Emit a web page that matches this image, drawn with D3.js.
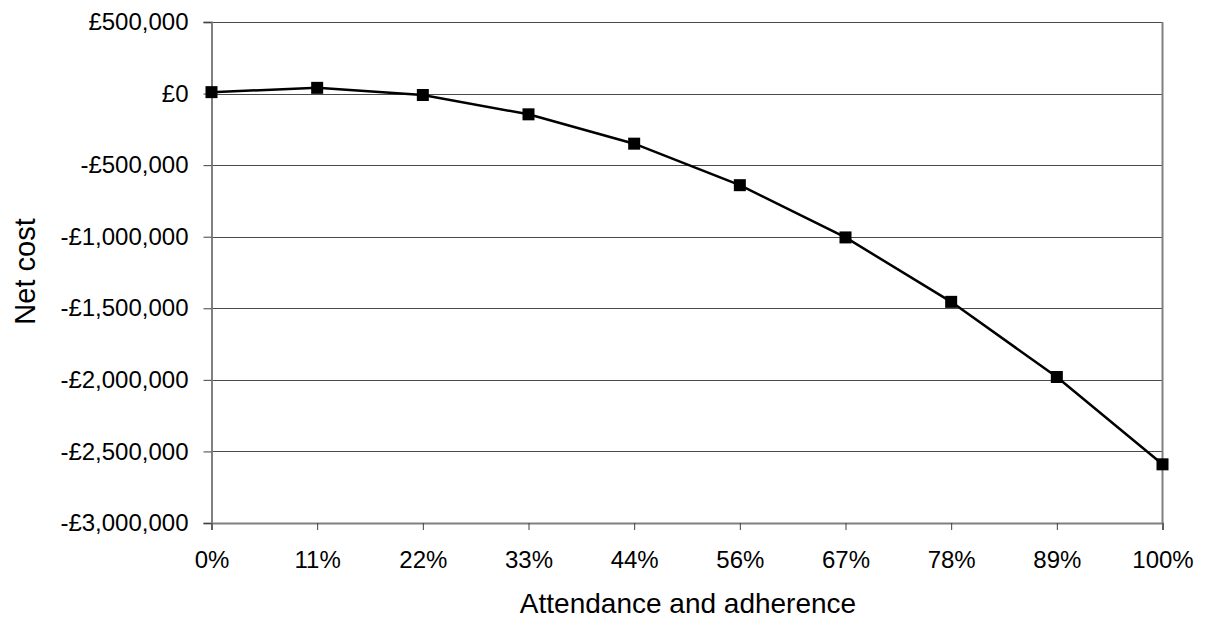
<!DOCTYPE html>
<html>
<head>
<meta charset="utf-8">
<script src="https://cdn.jsdelivr.net/npm/d3@7"></script>
<style>
  html, body { margin: 0; padding: 0; background: #fff; }
  svg { display: block; }
  text { font-family: "Liberation Sans", Arial, sans-serif; fill: #000; }
</style>
</head>
<body>
<svg id="chart" width="1207" height="621"></svg>
<script>
// Attendance/adherence levels and the net cost at each level
const categories = ["0%", "11%", "22%", "33%", "44%", "56%", "67%", "78%", "89%", "100%"];
const netCost = [10000, 40000, -10000, -145000, -350000, -640000, -1005000, -1455000, -1980000, -2590000];
const yTicks = [500000, 0, -500000, -1000000, -1500000, -2000000, -2500000, -3000000];

const svg = d3.select("#chart");
const plot = { left: 211.5, right: 1162.5, top: 22, bottom: 523 };

const x = d3.scalePoint().domain(categories).range([plot.left, plot.right]).padding(0);
const y = d3.scaleLinear().domain([-3000000, 500000]).range([plot.bottom, plot.top]);

const fmt = v => (v < 0 ? "-" : "") + "£" + d3.format(",")(Math.abs(v));

// horizontal gridlines
svg.append("g")
  .selectAll("line")
  .data(yTicks)
  .join("line")
  .attr("x1", plot.left).attr("x2", plot.right)
  .attr("y1", d => Math.round(y(d)) + 0.5).attr("y2", d => Math.round(y(d)) + 0.5)
  .attr("stroke", "#4a4a4a").attr("stroke-width", 1);

// right border of the plot area
svg.append("line")
  .attr("x1", plot.right).attr("x2", plot.right)
  .attr("y1", plot.top).attr("y2", plot.bottom)
  .attr("stroke", "#808080").attr("stroke-width", 2);

// y axis
const yAxis = svg.append("g")
  .attr("transform", `translate(${plot.left},0)`)
  .call(d3.axisLeft(y).tickValues(yTicks).tickFormat(fmt).tickSize(8).tickPadding(15));
yAxis.select(".domain").attr("stroke", "#808080").attr("stroke-width", 2);
yAxis.selectAll(".tick line").attr("stroke", "#404040").attr("stroke-width", 1);
yAxis.selectAll(".tick text").attr("font-size", 24).attr("font-family", "Liberation Sans, Arial, sans-serif").attr("fill", "#000");

// x axis
const xAxis = svg.append("g")
  .attr("transform", `translate(0,${plot.bottom})`)
  .call(d3.axisBottom(x).tickSize(7).tickPadding(21));
xAxis.select(".domain").attr("stroke", "#808080").attr("stroke-width", 2);
xAxis.selectAll(".tick line").attr("stroke", "#404040").attr("stroke-width", 1);
xAxis.selectAll(".tick text").attr("font-size", 24).attr("font-family", "Liberation Sans, Arial, sans-serif").attr("fill", "#000");

// series line
svg.append("path")
  .datum(netCost)
  .attr("fill", "none")
  .attr("stroke", "#000")
  .attr("stroke-width", 2.5)
  .attr("d", d3.line().x((d, i) => x(categories[i])).y(d => y(d)));

// square markers
const m = 12;
svg.append("g")
  .selectAll("rect")
  .data(netCost)
  .join("rect")
  .attr("x", (d, i) => x(categories[i]) - m / 2)
  .attr("y", d => y(d) - m / 2)
  .attr("width", m).attr("height", m)
  .attr("fill", "#000");

// axis titles
svg.append("text")
  .attr("x", 688).attr("y", 613)
  .attr("text-anchor", "middle")
  .attr("font-size", 28)
  .text("Attendance and adherence");

svg.append("text")
  .attr("transform", "translate(35,271.5) rotate(-90)")
  .attr("text-anchor", "middle")
  .attr("font-size", 29)
  .text("Net cost");
</script>
</body>
</html>
